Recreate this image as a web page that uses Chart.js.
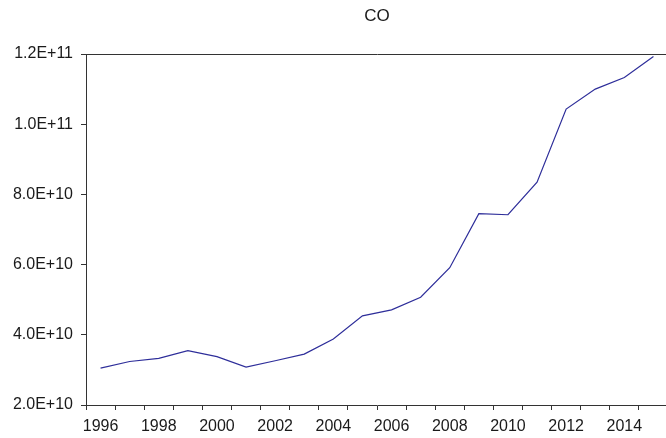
<!DOCTYPE html>
<html>
<head>
<meta charset="utf-8">
<script src="https://cdn.jsdelivr.net/npm/chart.js@4/dist/chart.umd.min.js"></script>
<style>
  html, body { margin: 0; padding: 0; overflow: hidden; background: #fff; }
  #wrap { width: 668px; height: 438px; }
</style>
</head>
<body>
<div id="wrap"><canvas id="c" width="668" height="438"></canvas></div>
<script>
// Annual CO series, 1996-2015
const years = ['1996','1997','1998','1999','2000','2001','2002','2003','2004','2005',
               '2006','2007','2008','2009','2010','2011','2012','2013','2014','2015'];
const coValues = [3.05e10, 3.24e10, 3.33e10, 3.55e10, 3.38e10, 3.08e10, 3.26e10, 3.45e10, 3.88e10, 4.54e10,
                  4.71e10, 5.07e10, 5.91e10, 7.45e10, 7.42e10, 8.35e10, 1.043e11, 1.10e11, 1.133e11, 1.193e11];
const yTicks = [2e10, 4e10, 6e10, 8e10, 1e11, 1.2e11];
const chartTitle = 'CO';

const axisColor = '#333333';
const textColor = '#1a1a1a';
const labelFont = { family: '"Liberation Sans", Arial, sans-serif', size: 16 };

new Chart(document.getElementById('c'), {
  type: 'line',
  data: {
    labels: years,
    datasets: [{
      data: coValues,
      borderColor: '#2e2e9a',
      borderWidth: 1.2,
      pointRadius: 0,
      tension: 0,
      fill: false
    }]
  },
  options: {
    responsive: false,
    animation: false,
    layout: { padding: 0 },
    plugins: { legend: { display: false }, tooltip: { enabled: false } },
    scales: {
      x: {
        type: 'category',
        position: 'bottom',
        offset: true,
        grid: { offset: true, drawOnChartArea: false, drawTicks: true, tickLength: 5, color: axisColor },
        border: { display: true, color: axisColor, width: 1 },
        ticks: {
          autoSkip: false, maxRotation: 0, minRotation: 0, padding: 7,
          color: textColor, font: labelFont,
          callback: function (v, i) { return i % 2 === 0 ? this.getLabelForValue(v) : ''; }
        },
        afterFit: s => { s.height = 33; }
      },
      xTop: {
        type: 'category',
        position: 'top',
        offset: true,
        grid: { display: false, drawTicks: false },
        border: { display: true, color: axisColor, width: 1 },
        ticks: { display: false },
        title: {
          display: true, text: chartTitle, color: textColor,
          font: { family: '"Liberation Sans", Arial, sans-serif', size: 17 },
          padding: { top: 6, bottom: 0 }
        },
        afterFit: s => { s.height = 54; }
      },
      y: {
        type: 'linear',
        position: 'left',
        min: yTicks[0],
        max: yTicks[yTicks.length - 1],
        grid: { drawOnChartArea: false, drawTicks: true, tickLength: 5, color: axisColor },
        border: { display: true, color: axisColor, width: 1 },
        afterBuildTicks: s => { s.ticks = yTicks.map(v => ({ value: v })); },
        ticks: {
          padding: 8, color: textColor, font: labelFont,
          callback: v => Number(v).toExponential(1).toUpperCase()
        },
        afterFit: s => { s.width = 86; }
      }
    }
  }
});
</script>
</body>
</html>
